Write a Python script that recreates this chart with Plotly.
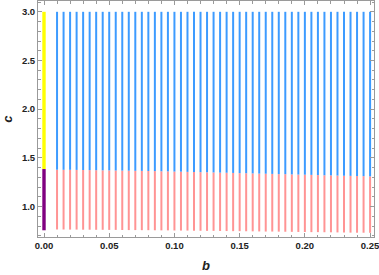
import plotly.graph_objects as go

# b-values of the vertical segments
b_vals = [0.010, 0.015, 0.020, 0.025, 0.030, 0.035, 0.040, 0.045, 0.050, 0.055,
          0.060, 0.065, 0.070, 0.075, 0.080, 0.085, 0.090, 0.095, 0.100, 0.105,
          0.110, 0.115, 0.120, 0.125, 0.130, 0.135, 0.140, 0.145, 0.150, 0.155,
          0.160, 0.165, 0.170, 0.175, 0.180, 0.185, 0.190, 0.195, 0.200, 0.205,
          0.210, 0.215, 0.220, 0.225, 0.230, 0.235, 0.240, 0.245, 0.250]
# boundary between red (lower) and blue (upper) region
c_split = [1.378, 1.377, 1.377, 1.376, 1.375, 1.374, 1.373, 1.372, 1.371, 1.370,
           1.369, 1.368, 1.367, 1.366, 1.365, 1.364, 1.362, 1.361, 1.359, 1.358,
           1.356, 1.355, 1.353, 1.352, 1.350, 1.348, 1.347, 1.345, 1.343, 1.342,
           1.340, 1.338, 1.337, 1.335, 1.333, 1.332, 1.330, 1.328, 1.327, 1.325,
           1.323, 1.321, 1.320, 1.318, 1.316, 1.315, 1.313, 1.312, 1.310]
# lower end of the red region
c_low = [0.764, 0.764, 0.763, 0.763, 0.762, 0.762, 0.761, 0.761, 0.760, 0.760,
         0.759, 0.758, 0.758, 0.757, 0.757, 0.756, 0.755, 0.755, 0.754, 0.753,
         0.753, 0.752, 0.751, 0.750, 0.750, 0.749, 0.748, 0.747, 0.747, 0.746,
         0.745, 0.744, 0.743, 0.743, 0.742, 0.741, 0.740, 0.739, 0.738, 0.737,
         0.737, 0.736, 0.735, 0.734, 0.733, 0.732, 0.731, 0.731, 0.730]
c_top = 3.0

# b = 0 segment
b0 = 0.0
b0_split = 1.385
b0_low = 0.756

def segs(xs, y0s, y1s):
    X, Y = [], []
    for x, a, b in zip(xs, y0s, y1s):
        X += [x, x, None]
        Y += [a, b, None]
    return X, Y

bx, by = segs(b_vals, c_split, [c_top] * len(b_vals))
rx, ry = segs(b_vals, c_low, c_split)

fig = go.Figure()
fig.add_trace(go.Scatter(x=rx, y=ry, mode="lines",
                         line=dict(color="#FF9494", width=2), hoverinfo="skip"))
fig.add_trace(go.Scatter(x=bx, y=by, mode="lines",
                         line=dict(color="#3D9BFF", width=2), hoverinfo="skip"))
fig.add_trace(go.Scatter(x=[b0, b0], y=[b0_split, c_top], mode="lines",
                         line=dict(color="#FFFF00", width=3.4), hoverinfo="skip"))
fig.add_trace(go.Scatter(x=[b0, b0], y=[b0_low, b0_split], mode="lines",
                         line=dict(color="#800080", width=3.4), hoverinfo="skip"))

axis_common = dict(
    showline=True, linecolor="#9a9a9a", linewidth=1, mirror="allticks",
    ticks="inside", ticklen=4, tickcolor="#9a9a9a", tickwidth=1,
    showgrid=False, zeroline=False, automargin=False,
    tickfont=dict(family="Liberation Sans", size=9.5, color="#222222", weight="bold"),
)

fig.update_xaxes(range=[-0.0046, 0.2530], dtick=0.05, tick0=0, tickformat=".2f",
                 ticklabeloverflow="allow",
                 minor=dict(dtick=0.01, ticks="inside", ticklen=2.5, tickcolor="#9a9a9a"),
                 title=dict(text="b", standoff=10,
                            font=dict(family="Liberation Sans", size=13, color="#222222",
                                      style="italic", weight="bold")),
                 **axis_common)
fig.update_yaxes(range=[0.687, 3.111], dtick=0.5, tick0=0, tickformat=".1f",
                 minor=dict(dtick=0.1, ticks="inside", ticklen=2.5, tickcolor="#9a9a9a"),
                 title=dict(text="c", standoff=8,
                            font=dict(family="Liberation Sans", size=13, color="#222222",
                                      style="italic", weight="bold")),
                 **axis_common)

fig.update_layout(width=379, height=275, showlegend=False,
                  margin=dict(l=38, r=5, t=1, b=38),
                  plot_bgcolor="white", paper_bgcolor="white")

fig.write_html("out.html", config={"displayModeBar": False},
               post_script="document.body.style.margin='0px';document.body.style.overflow='hidden';")
